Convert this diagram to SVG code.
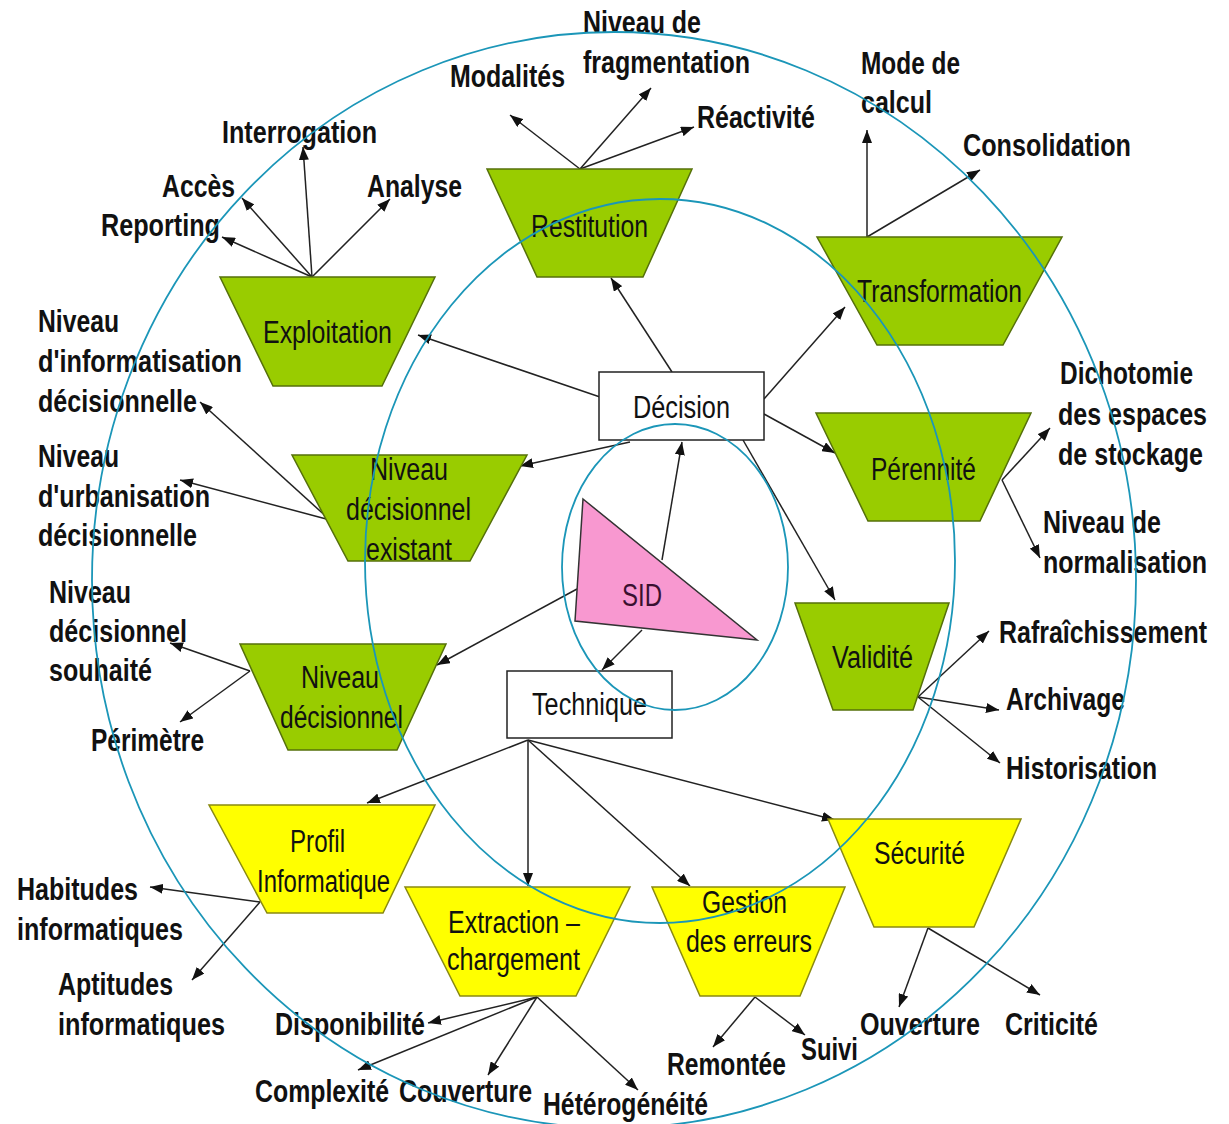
<svg xmlns="http://www.w3.org/2000/svg" width="1229" height="1124" viewBox="0 0 1229 1124">
<style>
.lbl{font-family:"Liberation Sans",Arial,sans-serif;font-weight:bold;font-size:31px;fill:#111}
.sm{font-size:26px}
.nt{font-family:"Liberation Sans",Arial,sans-serif;font-size:31px;fill:#111}
.gr{fill:#99cc00;stroke:#55700a;stroke-width:1.5}
.ye{fill:#ffff00;stroke:#8a8a10;stroke-width:1.5}
.bx{fill:#fff;stroke:#222;stroke-width:1.5}
.e{stroke:#222;stroke-width:1.5;fill:none;marker-end:url(#ah)}
.c{fill:none;stroke:#1b96b8;stroke-width:1.8}
</style>
<defs>
<marker id="ah" markerUnits="userSpaceOnUse" markerWidth="14" markerHeight="10" refX="13" refY="5" orient="auto">
<path d="M0,0 L13,5 L0,10 z" fill="#111"/>
</marker>
</defs>
<rect width="1229" height="1124" fill="#fff"/>

<g id="connectors">
<line class="e" x1="312" y1="277" x2="222" y2="237"/>
<line class="e" x1="312" y1="277" x2="242" y2="198"/>
<line class="e" x1="312" y1="277" x2="303" y2="147"/>
<line class="e" x1="312" y1="277" x2="390" y2="199"/>
<line class="e" x1="580" y1="169" x2="510" y2="115"/>
<line class="e" x1="580" y1="169" x2="651" y2="88"/>
<line class="e" x1="580" y1="169" x2="694" y2="127"/>
<line class="e" x1="867" y1="237" x2="867" y2="130"/>
<line class="e" x1="867" y1="237" x2="980" y2="170"/>
<line class="e" x1="1002" y1="480" x2="1050" y2="428"/>
<line class="e" x1="1002" y1="480" x2="1040" y2="558"/>
<line class="e" x1="918" y1="697" x2="989" y2="631"/>
<line class="e" x1="918" y1="697" x2="999" y2="710"/>
<line class="e" x1="918" y1="697" x2="1000" y2="763"/>
<line class="e" x1="672" y1="372" x2="611" y2="278"/>
<line class="e" x1="600" y1="397" x2="418" y2="335"/>
<line class="e" x1="764" y1="399" x2="845" y2="307"/>
<line class="e" x1="764" y1="414" x2="835" y2="453"/>
<line class="e" x1="743" y1="440" x2="835" y2="600"/>
<line class="e" x1="630" y1="442" x2="520" y2="466"/>
<line class="e" x1="662" y1="560" x2="682" y2="442"/>
<line class="e" x1="577" y1="589" x2="437" y2="665"/>
<line class="e" x1="642" y1="630" x2="602" y2="670"/>
<line class="e" x1="330" y1="520" x2="200" y2="402"/>
<line class="e" x1="330" y1="520" x2="180" y2="480"/>
<line class="e" x1="250" y1="671" x2="170" y2="643"/>
<line class="e" x1="250" y1="671" x2="180" y2="722"/>
<line class="e" x1="528" y1="740" x2="367" y2="803"/>
<line class="e" x1="528" y1="740" x2="528" y2="886"/>
<line class="e" x1="528" y1="740" x2="690" y2="886"/>
<line class="e" x1="528" y1="740" x2="835" y2="820"/>
<line class="e" x1="260" y1="902" x2="150" y2="887"/>
<line class="e" x1="260" y1="902" x2="192" y2="980"/>
<line class="e" x1="537" y1="997" x2="428" y2="1023"/>
<line class="e" x1="537" y1="997" x2="358" y2="1070"/>
<line class="e" x1="537" y1="997" x2="488" y2="1075"/>
<line class="e" x1="537" y1="997" x2="638" y2="1090"/>
<line class="e" x1="755" y1="997" x2="713" y2="1047"/>
<line class="e" x1="755" y1="997" x2="805" y2="1035"/>
<line class="e" x1="928" y1="928" x2="899" y2="1007"/>
<line class="e" x1="928" y1="928" x2="1040" y2="995"/>
</g>

<g id="exploitation">
<polygon class="gr" points="220,277 435,277 382,386 273,386"/>
<text class="nt" x="263" y="343" textLength="129" lengthAdjust="spacingAndGlyphs">Exploitation</text>
</g>
<g id="restitution">
<polygon class="gr" points="487,169 692,169 643,277 537,277"/>
<text class="nt" x="531" y="237" textLength="117" lengthAdjust="spacingAndGlyphs">Restitution</text>
</g>
<g id="transformation">
<polygon class="gr" points="817,237 1062,237 1003,345 877,345"/>
<text class="nt" x="857" y="302" textLength="165" lengthAdjust="spacingAndGlyphs">Transformation</text>
</g>
<g id="niveau-decisionnel-existant">
<polygon class="gr" points="292,455 527,455 470,561 348,561"/>
<text class="nt" x="370" y="480" textLength="78" lengthAdjust="spacingAndGlyphs">Niveau</text>
<text class="nt" x="346" y="520" textLength="125" lengthAdjust="spacingAndGlyphs">décisionnel</text>
<text class="nt" x="366" y="560" textLength="86" lengthAdjust="spacingAndGlyphs">existant</text>
</g>
<g id="perennite">
<polygon class="gr" points="816,413 1031,413 980,521 868,521"/>
<text class="nt" x="871" y="480" textLength="105" lengthAdjust="spacingAndGlyphs">Pérennité</text>
</g>
<g id="validite">
<polygon class="gr" points="795,603 949,603 913,710 833,710"/>
<text class="nt" x="832" y="668" textLength="81" lengthAdjust="spacingAndGlyphs">Validité</text>
</g>
<g id="niveau-decisionnel">
<polygon class="gr" points="240,644 446,644 397,750 288,750"/>
<text class="nt" x="301" y="688" textLength="78" lengthAdjust="spacingAndGlyphs">Niveau</text>
<text class="nt" x="280" y="728" textLength="123" lengthAdjust="spacingAndGlyphs">décisionnel</text>
</g>
<g id="profil-informatique">
<polygon class="ye" points="209,805 435,805 383,913 267,913"/>
<text class="nt" x="290" y="852" textLength="55" lengthAdjust="spacingAndGlyphs">Profil</text>
<text class="nt" x="257" y="892" textLength="133" lengthAdjust="spacingAndGlyphs">Informatique</text>
</g>
<g id="extraction-chargement">
<polygon class="ye" points="405,887 630,887 576,996 460,996"/>
<text class="nt" x="448" y="933" textLength="132" lengthAdjust="spacingAndGlyphs">Extraction –</text>
<text class="nt" x="447" y="970" textLength="133" lengthAdjust="spacingAndGlyphs">chargement</text>
</g>
<g id="gestion-erreurs">
<polygon class="ye" points="652,887 845,887 800,996 700,996"/>
<text class="nt" x="702" y="913" textLength="85" lengthAdjust="spacingAndGlyphs">Gestion</text>
<text class="nt" x="686" y="952" textLength="126" lengthAdjust="spacingAndGlyphs">des erreurs</text>
</g>
<g id="securite">
<polygon class="ye" points="828,819 1021,819 974,927 874,927"/>
<text class="nt" x="874" y="864" textLength="91" lengthAdjust="spacingAndGlyphs">Sécurité</text>
</g>
<g id="decision">
<rect class="bx" x="599" y="372" width="165" height="68"/>
<text class="nt" x="633" y="418" textLength="97" lengthAdjust="spacingAndGlyphs">Décision</text>
</g>
<g id="technique">
<rect class="bx" x="507" y="671" width="165" height="67"/>
<text class="nt" x="532" y="715" textLength="115" lengthAdjust="spacingAndGlyphs">Technique</text>
</g>
<g id="sid">
<polygon points="583,499 757,640 575,621" fill="#f898d0" stroke="#333" stroke-width="1.5"/>
<text class="nt" x="622" y="606" textLength="40" lengthAdjust="spacingAndGlyphs" style="fill:#3a1030">SID</text>
</g>

<g id="labels">
<text class="lbl" x="222" y="143" textLength="155" lengthAdjust="spacingAndGlyphs">Interrogation</text>
<text class="lbl" x="162" y="197" textLength="73" lengthAdjust="spacingAndGlyphs">Accès</text>
<text class="lbl" x="101" y="236" textLength="119" lengthAdjust="spacingAndGlyphs">Reporting</text>
<text class="lbl" x="367" y="197" textLength="95" lengthAdjust="spacingAndGlyphs">Analyse</text>
<text class="lbl" x="450" y="87" textLength="115" lengthAdjust="spacingAndGlyphs">Modalités</text>
<text class="lbl" x="583" y="33" textLength="118" lengthAdjust="spacingAndGlyphs">Niveau de</text>
<text class="lbl" x="583" y="73" textLength="167" lengthAdjust="spacingAndGlyphs">fragmentation</text>
<text class="lbl" x="697" y="128" textLength="118" lengthAdjust="spacingAndGlyphs">Réactivité</text>
<text class="lbl" x="861" y="74" textLength="99" lengthAdjust="spacingAndGlyphs">Mode de</text>
<text class="lbl" x="861" y="113" textLength="71" lengthAdjust="spacingAndGlyphs">calcul</text>
<text class="lbl" x="963" y="156" textLength="168" lengthAdjust="spacingAndGlyphs">Consolidation</text>
<text class="lbl" x="1060" y="384" textLength="133" lengthAdjust="spacingAndGlyphs">Dichotomie</text>
<text class="lbl sm" transform="translate(1058 425) scale(1 1.19)" textLength="149" lengthAdjust="spacingAndGlyphs">des espaces</text>
<text class="lbl sm" transform="translate(1058 465) scale(1 1.19)" textLength="145" lengthAdjust="spacingAndGlyphs">de stockage</text>
<text class="lbl" x="1043" y="533" textLength="118" lengthAdjust="spacingAndGlyphs">Niveau de</text>
<text class="lbl sm" transform="translate(1043 573) scale(1 1.19)" textLength="164" lengthAdjust="spacingAndGlyphs">normalisation</text>
<text class="lbl sm" transform="translate(999 643) scale(1 1.19)" textLength="208" lengthAdjust="spacingAndGlyphs">Rafraîchissement</text>
<text class="lbl" x="1006" y="710" textLength="119" lengthAdjust="spacingAndGlyphs">Archivage</text>
<text class="lbl" x="1006" y="779" textLength="151" lengthAdjust="spacingAndGlyphs">Historisation</text>
<text class="lbl" x="38" y="332" textLength="81" lengthAdjust="spacingAndGlyphs">Niveau</text>
<text class="lbl" x="38" y="372" textLength="204" lengthAdjust="spacingAndGlyphs">d'informatisation</text>
<text class="lbl" x="38" y="412" textLength="159" lengthAdjust="spacingAndGlyphs">décisionnelle</text>
<text class="lbl" x="38" y="467" textLength="81" lengthAdjust="spacingAndGlyphs">Niveau</text>
<text class="lbl" x="38" y="507" textLength="172" lengthAdjust="spacingAndGlyphs">d'urbanisation</text>
<text class="lbl" x="38" y="546" textLength="159" lengthAdjust="spacingAndGlyphs">décisionnelle</text>
<text class="lbl" x="49" y="603" textLength="82" lengthAdjust="spacingAndGlyphs">Niveau</text>
<text class="lbl" x="49" y="642" textLength="138" lengthAdjust="spacingAndGlyphs">décisionnel</text>
<text class="lbl" x="49" y="681" textLength="103" lengthAdjust="spacingAndGlyphs">souhaité</text>
<text class="lbl" x="91" y="751" textLength="113" lengthAdjust="spacingAndGlyphs">Périmètre</text>
<text class="lbl" x="17" y="900" textLength="121" lengthAdjust="spacingAndGlyphs">Habitudes</text>
<text class="lbl" x="17" y="940" textLength="166" lengthAdjust="spacingAndGlyphs">informatiques</text>
<text class="lbl" x="58" y="995" textLength="115" lengthAdjust="spacingAndGlyphs">Aptitudes</text>
<text class="lbl" x="58" y="1035" textLength="167" lengthAdjust="spacingAndGlyphs">informatiques</text>
<text class="lbl" x="275" y="1035" textLength="150" lengthAdjust="spacingAndGlyphs">Disponibilité</text>
<text class="lbl sm" transform="translate(255 1102) scale(1 1.19)" textLength="134" lengthAdjust="spacingAndGlyphs">Complexité</text>
<text class="lbl" x="399" y="1102" textLength="133" lengthAdjust="spacingAndGlyphs">Couverture</text>
<text class="lbl" x="543" y="1115" textLength="165" lengthAdjust="spacingAndGlyphs">Hétérogénéité</text>
<text class="lbl sm" transform="translate(667 1075) scale(1 1.19)" textLength="119" lengthAdjust="spacingAndGlyphs">Remontée</text>
<text class="lbl" x="801" y="1060" textLength="57" lengthAdjust="spacingAndGlyphs">Suivi</text>
<text class="lbl" x="860" y="1035" textLength="120" lengthAdjust="spacingAndGlyphs">Ouverture</text>
<text class="lbl" x="1005" y="1035" textLength="93" lengthAdjust="spacingAndGlyphs">Criticité</text>
</g>

<g id="circles">
<ellipse class="c" cx="614" cy="580" rx="522" ry="548"/>
<ellipse class="c" cx="660" cy="561" rx="295" ry="362"/>
<ellipse class="c" cx="675" cy="567" rx="113" ry="143"/>
</g>
</svg>
